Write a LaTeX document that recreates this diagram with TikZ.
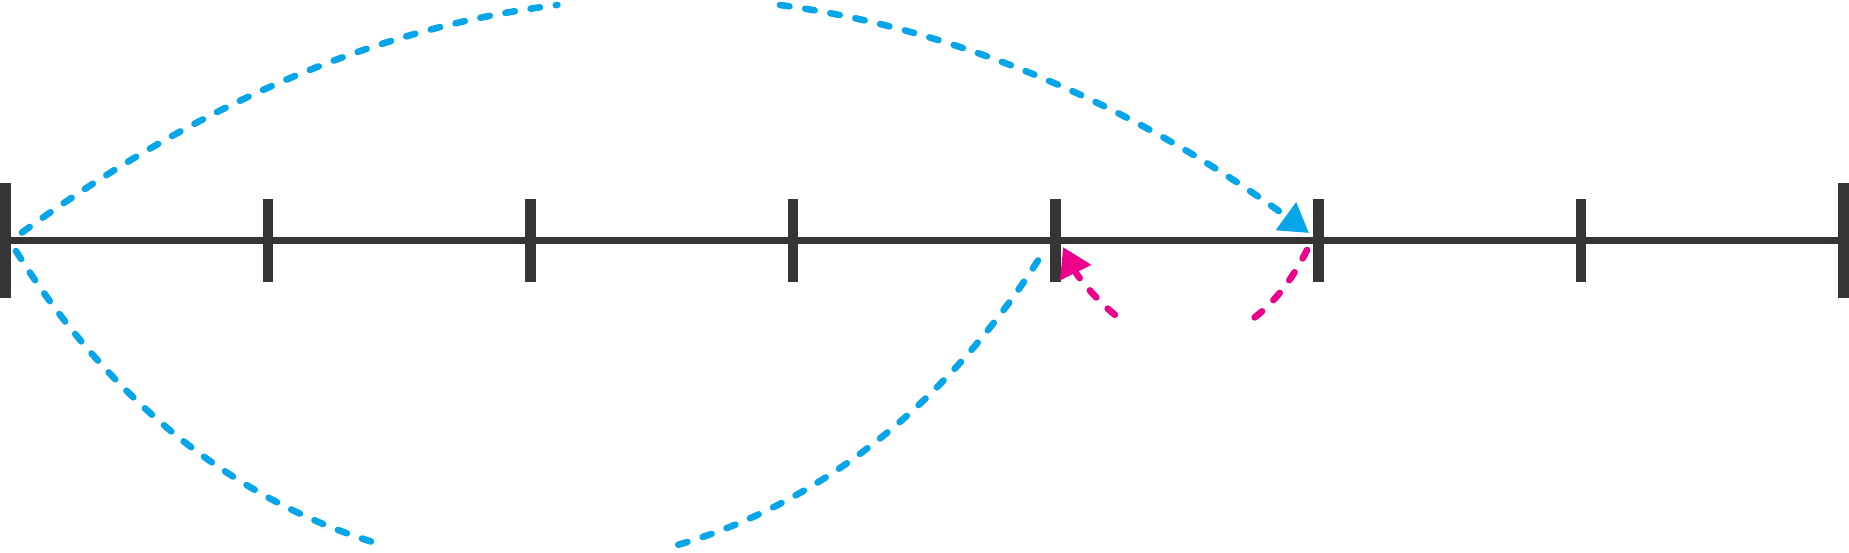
\documentclass[tikz,border=0pt]{standalone}
\usetikzlibrary{arrows.meta}
\definecolor{axisgray}{RGB}{54,52,52}
\definecolor{hopblue}{RGB}{8,166,232}
\definecolor{hoppink}{RGB}{236,0,140}
\begin{document}
\begin{tikzpicture}[x=1pt,y=-1pt,
  endtick/.style={fill=axisgray, draw=none, rectangle, inner sep=0pt, outer sep=0pt, minimum width=10.7pt, minimum height=115pt},
  midtick/.style={fill=axisgray, draw=none, rectangle, inner sep=0pt, outer sep=0pt, minimum width=10.7pt, minimum height=83pt},
  axisline/.style={draw=axisgray, line width=6.5pt},
  hop/.style={line width=6.6pt, line cap=round, dash pattern=on 9.5pt off 16pt},
  bluehop/.style={hop, draw=hopblue},
  pinkhop/.style={hop, draw=hoppink},
  hoptip/.style={-{Triangle[length=28.6pt,width=33pt]}},
]
\useasboundingbox (0,0) rectangle (1849,552);
% number line ticks
\node[endtick] (t0) at (5.35,240.7) {};
\node[midtick] (t1) at (267.9,240.7) {};
\node[midtick] (t2) at (530.5,240.7) {};
\node[midtick] (t3) at (793.1,240.7) {};
\node[midtick] (t4) at (1055.7,240.7) {};
\node[midtick] (t5) at (1318.3,240.7) {};
\node[midtick] (t6) at (1580.9,240.7) {};
\node[endtick] (t7) at (1843.65,240.7) {};
\draw[axisline] (t0.center) -- (t7.center);
% end points of the hops
\coordinate (topA) at (22,232.5);
\coordinate (topB) at (557.4,5.0);
\coordinate (topC) at (780.0,5.0);
\coordinate (topD) at (1309,233);
\coordinate (botA) at (16,251);
\coordinate (botB) at (381.7,544.7);
\coordinate (botC) at (678.3,544.7);
\coordinate (botD) at (1044,251);
\coordinate (pinkA) at (1307,250);
\coordinate (pinkB) at (1246.4,323.4);
\coordinate (pinkC) at (1114.9,314.8);
\coordinate (pinkD) at (1063,247);
% blue hop above: 0 -> 5
\draw[bluehop] (topA) .. controls (200.5,102.6) and (378.9,26.8) .. (topB);
\draw[bluehop, hoptip] (topC) .. controls (956.3,28.8) and (1132.7,104.5) .. (topD);
% blue hop below: 0 -- 4
\draw[bluehop] (botA) .. controls (112.9,406.4) and (243.0,504.3) .. (botB);
\draw[bluehop] (botC) .. controls (817.0,504.3) and (947.1,406.4) .. (botD);
% pink hop below: 5 -> 4
\draw[pinkhop] (pinkA) .. controls (1290.3,283.75) and (1269.3,308.2) .. (pinkB);
\draw[pinkhop, hoptip] (pinkC) .. controls (1095.4,299.0) and (1077.6,276.4) .. (pinkD);
\end{tikzpicture}
\end{document}
